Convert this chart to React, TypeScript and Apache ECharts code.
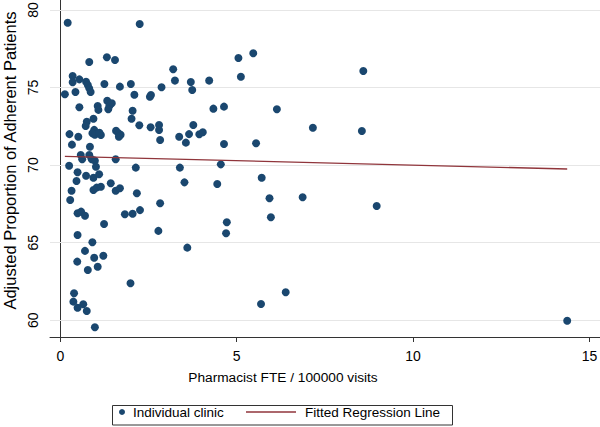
import { useEffect, useRef } from "react";
import * as echarts from "echarts";

const pharmacistFte = [
  0.21, 2.25, 0.82, 1.32, 1.55, 0.35, 0.35, 0.54, 0.73, 0.78, 0.82, 0.86, 0.13, 0.43, 1.25, 1.69, 2.0, 2.1,
  0.54, 1.06, 1.08, 1.33, 1.39, 1.46, 1.36, 2.05, 2.02, 0.94, 0.75, 0.72, 0.96, 0.91, 0.98, 1.15, 1.11, 1.58,
  1.65, 1.71, 1.66, 0.26, 0.51, 0.33, 0.84, 2.24, 0.58, 0.62, 0.82, 0.89, 0.98, 1.57, 0.25, 1.01, 2.14, 0.49,
  0.73, 0.94, 1.1, 0.46, 0.32, 0.94, 1.03, 1.15, 1.43, 1.57, 1.69, 2.17, 0.28, 0.49, 0.59, 0.7, 1.83, 2.05,
  2.26, 1.24, 0.49, 0.91, 0.7, 1.22, 0.96, 0.48, 1.06, 0.78, 1.99, 0.39, 0.37, 0.65, 0.49, 0.75, 0.98, 3.2,
  3.25, 3.7, 3.74, 4.22, 2.87, 2.54, 2.57, 4.34, 4.64, 2.56, 2.8, 2.8, 2.83, 3.37, 3.56, 3.65, 3.77, 3.94,
  4.04, 4.64, 3.39, 4.55, 3.52, 4.45, 2.83, 2.78, 4.72, 4.7, 3.6, 5.05, 5.47, 5.12, 6.14, 7.16, 5.55, 5.71,
  5.93, 6.87, 5.97, 6.39, 5.69, 8.59, 8.55, 8.97, 14.37,
];
const adherentProportion = [
  79.18, 79.1, 76.65, 76.95, 76.78, 75.75, 75.34, 75.53, 75.38, 75.17, 74.95, 74.71, 74.57, 74.71, 75.23, 75.06, 75.23, 74.54,
  73.73, 73.81, 73.56, 74.15, 73.81, 73.99, 73.6, 73.51, 72.99, 72.99, 72.8, 72.52, 72.27, 72.05, 71.96, 71.94, 72.09, 72.22,
  72.05, 71.96, 71.83, 72.0, 71.83, 71.32, 71.19, 72.57, 70.65, 70.38, 70.65, 70.38, 70.29, 70.38, 69.96, 69.9, 69.84, 69.54,
  69.32, 69.19, 69.41, 68.98, 68.35, 68.4, 68.55, 68.61, 68.83, 68.35, 68.51, 68.19, 67.75, 66.9, 67.0, 66.74, 66.83, 66.87,
  67.1, 66.21, 65.5, 65.03, 64.47, 64.16, 64.03, 63.78, 63.45, 63.24, 62.38, 61.74, 61.2, 61.03, 60.81, 60.6, 59.55, 76.18,
  75.45, 75.36, 74.84, 75.45, 75.02, 74.41, 74.52, 73.64, 73.77, 72.44, 72.59, 72.27, 71.62, 71.83, 71.45, 72.0, 72.59, 71.99,
  72.12, 71.36, 69.84, 70.05, 68.89, 68.78, 67.54, 65.76, 66.32, 65.61, 64.68, 76.91, 77.21, 75.7, 73.6, 72.41, 71.41, 69.19,
  67.86, 67.93, 66.64, 61.8, 61.05, 76.07, 72.2, 67.37, 59.97,
];
const fitLineX = [0.13, 14.37];
const fitLineY = [70.57, 69.75];
const xTicks = [0, 5, 10, 15];
const yTicks = [60, 65, 70, 75, 80];
const seriesNames = ["Individual clinic", "Fitted Regression Line"];
const xTitle = "Pharmacist FTE / 100000 visits";
const yTitle = "Adjusted Proportion of Adherent Patients";

const FONT = "'Liberation Sans', Arial, sans-serif";

export default function App() {
  const ref = useRef<HTMLDivElement>(null);
  useEffect(() => {
    if (!ref.current) return;
    const chart = echarts.init(ref.current, null, { renderer: "svg" });
    const axisColor = "#333";
    chart.setOption({
      animation: false,
      backgroundColor: "#fff",
      textStyle: { fontFamily: FONT },
      grid: { left: 50, right: 0, top: 0, bottom: 90, outerBoundsMode: "none" },
      xAxis: {
        type: "value",
        min: -0.292,
        max: 15.3,
        name: xTitle,
        nameLocation: "middle",
        nameGap: 33,
        nameTextStyle: { fontSize: 13.7, color: "#000", fontFamily: FONT, padding: [0, 84, 0, 0] },
        axisLine: { show: true, lineStyle: { color: axisColor, width: 1 } },
        axisTick: { show: true, length: 5, customValues: xTicks, lineStyle: { color: axisColor } },
        axisLabel: { customValues: xTicks, fontSize: 14, color: "#000", margin: 12, fontFamily: FONT },
        splitLine: { show: false },
      },
      yAxis: {
        type: "value",
        min: 58.92,
        max: 80.645,
        name: yTitle,
        nameLocation: "middle",
        nameGap: 32,
        nameRotate: 90,
        nameTextStyle: { fontSize: 16.5, color: "#000", fontFamily: FONT, padding: [0, 0, 0, 16] },
        axisLine: { show: true, lineStyle: { color: axisColor, width: 1 } },
        axisTick: { show: true, length: 5, customValues: yTicks, lineStyle: { color: axisColor } },
        axisLabel: { customValues: yTicks, rotate: 90, fontSize: 14, color: "#000", margin: 10, fontFamily: FONT },
        splitLine: { show: false },
      },
      legend: [
        {
          data: [{ name: seriesNames[0], icon: "circle" }],
          left: 119,
          top: 405,
          padding: 0,
          itemWidth: 6,
          itemHeight: 6,
          selectedMode: false,
          textStyle: { fontSize: 13.5, color: "#000", fontFamily: FONT, padding: [0, 0, 0, 3] },
        },
        {
          data: [{ name: seriesNames[1], icon: "rect" }],
          left: 246,
          top: 405,
          padding: 0,
          itemWidth: 50,
          itemHeight: 1.4,
          selectedMode: false,
          textStyle: { fontSize: 13.5, color: "#000", fontFamily: FONT, padding: [0, 0, 0, 4] },
        },
      ],
      graphic: [
        {
          type: "rect",
          silent: true,
          shape: { x: 112.5, y: 405.5, width: 340, height: 19.5 },
          style: { fill: "none", stroke: "#333", lineWidth: 1 },
        },
      ],
      series: [
        {
          name: seriesNames[0],
          type: "scatter",
          symbol: "circle",
          symbolSize: 8,
          z: 2,
          itemStyle: { color: "#1a476f", opacity: 1 },
          data: pharmacistFte.map((x, i) => [x, adherentProportion[i]]),
          markLine: {
            silent: true,
            z: 1,
            symbol: ["none", "none"],
            label: { show: false },
            lineStyle: { color: "#e6e6e6", width: 1, type: "solid" },
            emphasis: { disabled: true },
            data: yTicks.map((v) => ({ yAxis: v })),
          },
        },
        {
          name: seriesNames[1],
          type: "line",
          symbol: "none",
          z: 3,
          lineStyle: { color: "#90353b", width: 1.3 },
          itemStyle: { color: "#90353b" },
          data: fitLineX.map((x, i) => [x, fitLineY[i]]),
        },
      ],
    });
    return () => chart.dispose();
  }, []);
  return <div ref={ref} style={{ position: "fixed", left: 0, top: 0, width: 600, height: 427 }} />;
}
